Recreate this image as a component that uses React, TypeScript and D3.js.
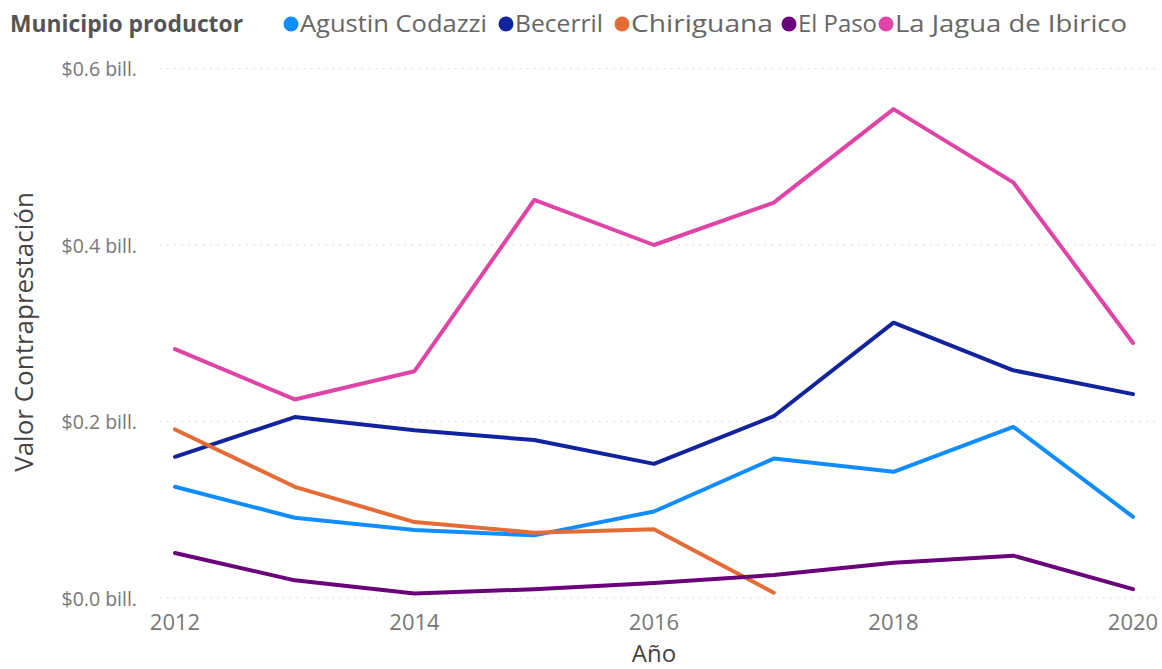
import React from "react";
import * as d3 from "d3";

const years = [2012, 2013, 2014, 2015, 2016, 2017, 2018, 2019, 2020];
const codazzi = [0.126, 0.091, 0.077, 0.071, 0.098, 0.158, 0.143, 0.194, 0.092];
const becerril = [0.160, 0.205, 0.190, 0.179, 0.152, 0.206, 0.312, 0.258, 0.231];
const chiriguana = [0.191, 0.126, 0.086, 0.074, 0.078, 0.006];
const elPaso = [0.051, 0.020, 0.005, 0.010, 0.017, 0.026, 0.040, 0.048, 0.010];
const laJagua = [0.282, 0.225, 0.257, 0.451, 0.400, 0.448, 0.554, 0.471, 0.289];

const seriesNames = ["Agustin Codazzi", "Becerril", "Chiriguana", "El Paso", "La Jagua de Ibirico"];
const seriesValues = [codazzi, becerril, chiriguana, elPaso, laJagua];
const seriesColors = ["#118DFF", "#12239E", "#E66C37", "#6B007B", "#E044A7"];
const yTicks = [0, 0.2, 0.4, 0.6];
const xTicks = [2012, 2014, 2016, 2018, 2020];
const legendX = [291, 506, 622, 789, 886];
const legendW = [187, 88, 142, 79, 232];

const W = 1162;
const H = 669;
const FONT = "'Open Sans', 'Segoe UI', sans-serif";

export default function App() {
  const x = d3.scaleLinear().domain([2012, 2020]).range([175, 1133]);
  const y = d3.scaleLinear().domain([0, 0.6]).range([598, 68.5]);
  const line = d3
    .line<number>()
    .x((_, i) => x(years[i]))
    .y((d) => y(d));

  return (
    <svg
      width={W}
      height={H}
      style={{ position: "absolute", left: 0, top: 0, background: "#fff" }}
      fontFamily={FONT}
    >
      {/* legend */}
      <text x={10} y={32} fontSize={22.5} fontWeight={700} fill="#555" textLength={233} lengthAdjust="spacingAndGlyphs">
        Municipio productor
      </text>
      {seriesNames.map((n, i) => (
        <g key={n}>
          <circle cx={legendX[i]} cy={24} r={7.5} fill={seriesColors[i]} />
          <text
            x={legendX[i] + 9}
            y={32}
            fontSize={24}
            fill="#666"
            textLength={legendW[i]}
            lengthAdjust="spacingAndGlyphs"
          >
            {n}
          </text>
        </g>
      ))}

      {/* gridlines */}
      {yTicks.map((t) => (
        <g key={t}>
          <line
            x1={160}
            x2={1160}
            y1={y(t)}
            y2={y(t)}
            stroke="#c8c8c8"
            strokeWidth={1.2}
            strokeDasharray="1.2 6"
          />
          <text x={137} y={y(t) + 7.5} textAnchor="end" fontSize={19.5} fill="#777">
            {`$${t.toFixed(1)} bill.`}
          </text>
        </g>
      ))}

      {/* x ticks */}
      {xTicks.map((t) => (
        <text key={t} x={x(t)} y={630} textAnchor="middle" fontSize={22} fill="#777">
          {t}
        </text>
      ))}

      {/* axis titles */}
      <text x={654} y={662} textAnchor="middle" fontSize={24} fill="#444">
        Año
      </text>
      <text
        transform={`translate(33,332) rotate(-90)`}
        textAnchor="middle"
        fontSize={26}
        fill="#444"
      >
        Valor Contraprestación
      </text>

      {/* lines */}
      {seriesValues.map((vals, i) => (
        <path
          key={seriesNames[i]}
          d={line(vals) || ""}
          fill="none"
          stroke={seriesColors[i]}
          strokeWidth={4}
          strokeLinejoin="round"
          strokeLinecap="round"
        />
      ))}
    </svg>
  );
}
